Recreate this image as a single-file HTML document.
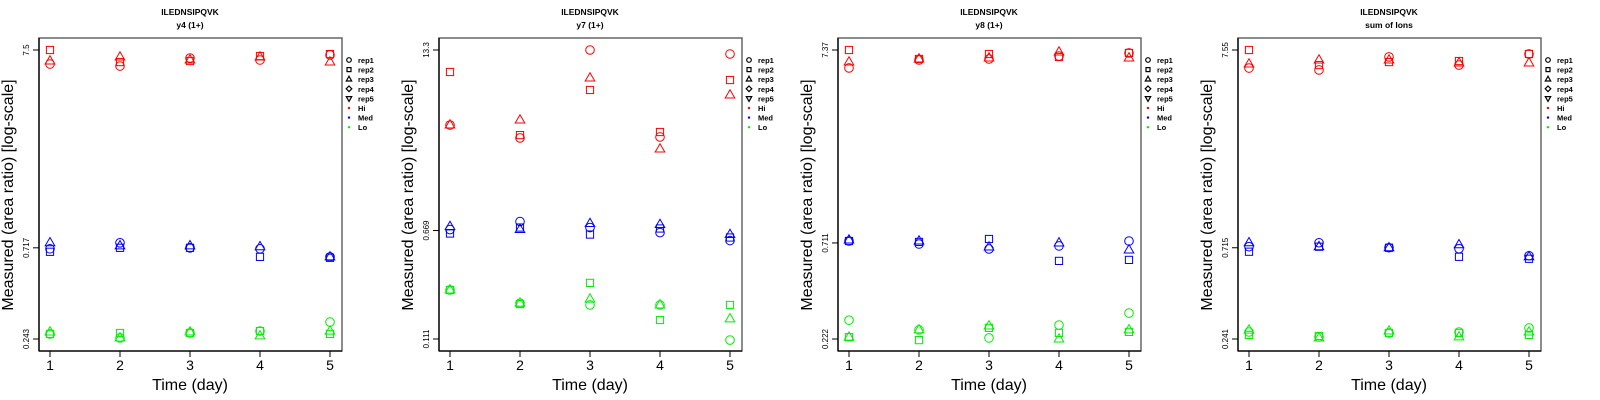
<!DOCTYPE html>
<html><head><meta charset="utf-8"><style>
html,body{margin:0;padding:0;background:#fff;}
svg{display:block;font-family:"Liberation Sans",sans-serif;}
</style></head><body>
<svg id="chart" width="1600" height="400" viewBox="0 0 1600 400" xmlns="http://www.w3.org/2000/svg"></svg>
<script>
const days = [1, 2, 3, 4, 5];
const titles = ["y4 (1+)", "y7 (1+)", "y8 (1+)", "sum of Ions"];
const yTicksP1 = [0.243, 0.717, 7.5];
const yTicksP2 = [0.111, 0.669, 13.3];
const yTicksP3 = [0.222, 0.711, 7.37];
const yTicksP4 = [0.241, 0.715, 7.55];
// rows: rep1 (circle), rep2 (square), rep3 (triangle)
const hiP1 = [[6.35,6.2,6.82,6.66,7.07],[7.5,6.5,6.58,6.98,7.15],[6.58,6.9,6.66,6.9,6.5]];
const medP1 = [[0.709,0.761,0.717,0.709,0.644],[0.684,0.717,0.717,0.644,0.637],[0.761,0.734,0.734,0.726,0.644]];
const loP1 = [[0.258,0.246,0.261,0.267,0.297],[0.258,0.261,0.261,0.267,0.258],[0.264,0.246,0.264,0.252,0.267]];
const hiP2 = [[3.84,3.10,13.3,3.15,12.45],[9.24,3.25,6.86,3.42,8.09],[3.84,4.17,8.36,2.58,6.31]];
const medP2 = [[0.680,0.777,0.703,0.647,0.567],[0.637,0.703,0.626,0.692,0.596],[0.715,0.680,0.751,0.739,0.626]];
const loP2 = [[0.250,0.201,0.195,0.195,0.109],[0.250,0.198,0.281,0.152,0.195],[0.250,0.201,0.215,0.195,0.155]];
const hiP3 = [[5.93,6.53,6.61,6.85,7.11],[7.37,6.61,7.02,6.77,7.11],[6.37,6.61,6.69,7.19,6.69]];
const medP3 = [[0.728,0.702,0.661,0.686,0.728],[0.728,0.720,0.746,0.572,0.579],[0.737,0.728,0.677,0.711,0.653]];
const loP3 = [[0.279,0.248,0.225,0.263,0.304],[0.227,0.219,0.254,0.239,0.242],[0.227,0.248,0.260,0.222,0.248]];
const hiP4 = [[6.09,5.95,6.95,6.31,7.20],[7.55,6.31,6.54,6.62,7.20],[6.39,6.70,6.70,6.47,6.47]];
const medP4 = [[0.724,0.759,0.715,0.707,0.650],[0.682,0.724,0.715,0.642,0.627],[0.759,0.724,0.715,0.741,0.642]];
const loP4 = [[0.262,0.247,0.259,0.262,0.275],[0.253,0.250,0.259,0.259,0.253],[0.268,0.244,0.265,0.247,0.262]];

const panels = [
  {ox:0, ticks:yTicksP1, hi:hiP1, med:medP1, lo:loP1},
  {ox:400, ticks:yTicksP2, hi:hiP2, med:medP2, lo:loP2},
  {ox:799, ticks:yTicksP3, hi:hiP3, med:medP3, lo:loP3},
  {ox:1199, ticks:yTicksP4, hi:hiP4, med:medP4, lo:loP4}
];
const NS = "http://www.w3.org/2000/svg";
const svg = document.getElementById('chart');
function mk(tag, attrs, parent, text){
  const e = document.createElementNS(NS, tag);
  for (const k in attrs) e.setAttribute(k, attrs[k]);
  if (text !== undefined) e.textContent = text;
  parent.appendChild(e);
  return e;
}
function marker(g, shape, x, y, color){
  let e;
  if (shape === 0) e = mk('circle', {cx:x, cy:y, r:4.3, fill:'none', stroke:color, 'stroke-width':1}, g);
  else if (shape === 1) e = mk('rect', {x:x-3.6, y:y-3.6, width:7.2, height:7.2, fill:'none', stroke:color, 'stroke-width':1}, g);
  else e = mk('polygon', {points:`${x},${y-5.3} ${x+4.8},${y+3} ${x-4.8},${y+3}`, fill:'none', stroke:color, 'stroke-width':1}, g);
  return e;
}
panels.forEach((p, pi) => {
  const g = mk('g', {transform:`translate(${p.ox},0)`}, svg);
  
  
  const xS = d => 50 + (d - 1) * 70;
  const lmin = Math.log(p.ticks[0]), lmax = Math.log(p.ticks[p.ticks.length-1]);
  const yS = v => 339 - (Math.log(v) - lmin) / (lmax - lmin) * 289;
  const t1 = mk('text', {x:190, y:15, 'text-anchor':'middle', 'font-size':8.5, 'font-weight':'bold'}, g, 'ILEDNSIPQVK');
  
  
  const t2 = mk('text', {x:190, y:28, 'text-anchor':'middle', 'font-size':8.5, 'font-weight':'bold'}, g, titles[pi]);
  
  
  const box = mk('rect', {x:39, y:38, width:303, height:313, fill:'none', stroke:'#666', 'stroke-width':1.5}, g);
  
  
  mk('line', {x1:39, y1:38, x2:39, y2:351, stroke:'#000', 'stroke-width':1.3}, g);
  mk('line', {x1:39, y1:351, x2:342, y2:351, stroke:'#000', 'stroke-width':1.3}, g);
  days.forEach(d => {
    mk('line', {x1:xS(d), y1:351, x2:xS(d), y2:357, stroke:'#000'}, g);
    const t = mk('text', {x:xS(d), y:370, 'text-anchor':'middle', 'font-size':14}, g, String(d));
    
    
  });
  p.ticks.forEach(v => {
    const y = yS(v);
    mk('line', {x1:33, y1:y, x2:39, y2:y, stroke:'#000'}, g);
    const t = mk('text', {x:29, y:y, 'text-anchor':'middle', 'font-size':8, transform:`rotate(-90 29 ${y})`}, g, String(v));
    
    
  });
  const xl = mk('text', {x:190, y:390, 'text-anchor':'middle', 'font-size':16}, g, 'Time (day)');
  
  
  const yl = mk('text', {x:13, y:195, 'text-anchor':'middle', 'font-size':16, transform:'rotate(-90 13 195)'}, g, 'Measured (area ratio) [log-scale]');
  
  
  [[p.hi,'#ff0000','hi'],[p.med,'#0000ff','med'],[p.lo,'#00ee00','lo']].forEach(([arr,col,nm]) => {
    arr.forEach((vals, ri) => {
      vals.forEach((v, di) => {
        const m = marker(g, ri, xS(days[di]), yS(v), col);
        
        
      });
    });
  });
  const lg = mk('g', {}, g);
  
  
  const items = ['rep1','rep2','rep3','rep4','rep5','Hi','Med','Lo'];
  items.forEach((lab, i) => {
    const y = 60 + i * 9.6;
    const sx = 349;
    let s;
    if (i === 0) s = mk('circle', {cx:sx, cy:y, r:2.3, fill:'none', stroke:'#000', 'stroke-width':1.2}, lg);
    else if (i === 1) s = mk('rect', {x:sx-2, y:y-2, width:4, height:4, fill:'none', stroke:'#000', 'stroke-width':1.2}, lg);
    else if (i === 2) s = mk('polygon', {points:`${sx},${y-3} ${sx+2.7},${y+1.8} ${sx-2.7},${y+1.8}`, fill:'none', stroke:'#000', 'stroke-width':1.2}, lg);
    else if (i === 3) s = mk('polygon', {points:`${sx},${y-2.8} ${sx+2.8},${y} ${sx},${y+2.8} ${sx-2.8},${y}`, fill:'none', stroke:'#000', 'stroke-width':1.2}, lg);
    else if (i === 4) s = mk('polygon', {points:`${sx},${y+3} ${sx+2.7},${y-1.8} ${sx-2.7},${y-1.8}`, fill:'none', stroke:'#000', 'stroke-width':1.2}, lg);
    else s = mk('circle', {cx:sx, cy:y, r:1.2, fill:['#ff0000','#0000ff','#00ee00'][i-5]}, lg);
    
    
    const t = mk('text', {x:358, y:y+3, 'font-size':7.5, 'font-weight':'bold'}, lg, lab);
    
    
  });
});
</script>
</body></html>
